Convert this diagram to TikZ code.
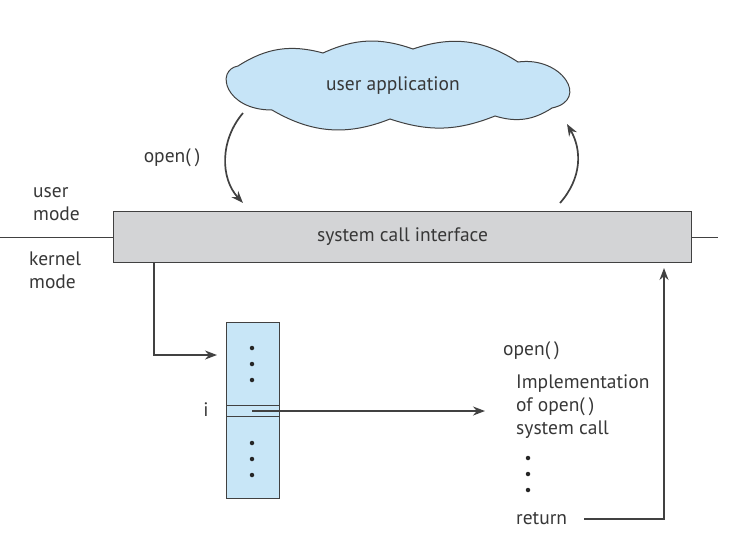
\documentclass[tikz,border=0pt]{standalone}
\usepackage{fontspec}
\setmainfont{PT Sans}
\usetikzlibrary{arrows.meta}
\definecolor{cloudblue}{RGB}{198,228,247}
\definecolor{tblblue}{RGB}{200,230,247}
\definecolor{boxgray}{RGB}{211,212,214}
\definecolor{linegray}{RGB}{65,65,65}
\definecolor{txtgray}{RGB}{55,55,55}
\newcommand{\opn}{open(\hspace{4pt})}
\begin{document}
\begin{tikzpicture}[x=1pt,y=-1pt,
  font=\fontsize{19.5}{23}\selectfont,
  lbl/.style={inner sep=0pt, text=txtgray},
  conn/.style={draw=linegray, line width=1.7pt, -{Stealth[length=12pt,width=9pt]}},
  dotst/.style={circle, fill=black!85, inner sep=0pt, minimum size=4.5pt},
  outline/.style={draw=linegray, line width=1pt}]
\useasboundingbox (0,0) rectangle (738,542);
% cloud
\draw[outline, fill=cloudblue] (238,66) to[bend left=24] (323,53) to[bend left=22] (413,49)
  to[bend left=26] (518,62) .. controls (562,56) and (590,100) .. (552,108)
  to[bend left=25] (495,116) to[bend left=20] (390,119) to[bend left=26] (272,110)
  .. controls (225,110) and (215,70) .. cycle;
\node[lbl] (ua) at (393,86) {user application};
% system call interface
\node[outline, fill=boxgray, minimum width=578pt, minimum height=51pt, anchor=north west, inner sep=0pt, text=txtgray] (sci) at (113,211) {system call interface};
\coordinate (lend) at (0,237);
\coordinate (rend) at (718,237);
\draw[draw=linegray, line width=0.9pt] (lend) -- (sci.west);
\draw[draw=linegray, line width=0.9pt] (sci.east) -- (rend);
% mode labels
\node[lbl, anchor=west, align=left] (um) at (33,204) {user\\mode};
\node[lbl, anchor=west, align=left] (km) at (29,270) {kernel\\mode};
% open() call arrows
\node[lbl] (op) at (172,158) {\opn};
\coordinate (a1) at (243,113);
\coordinate (a2) at (243,203);
\draw[conn] (a1) .. controls (220,140) and (220,178) .. (a2);
\coordinate (b1) at (560,203);
\coordinate (b2) at (567,124);
\draw[conn] (b1) .. controls (582,178) and (582,150) .. (b2);
% table
\node[outline, fill=tblblue, minimum width=53pt, minimum height=176pt, anchor=north west, inner sep=0pt] (tbl) at (226,322) {};
\coordinate (s1l) at (226,405); \coordinate (s1r) at (279,405);
\coordinate (s2l) at (226,416); \coordinate (s2r) at (279,416);
\draw[outline] (s1l) -- (s1r);
\draw[outline] (s2l) -- (s2r);
\foreach \yy/\nm in {348/d1,364/d2,380/d3,443/d4,459/d5,475/d6}
  \node[dotst] (\nm) at (252,\yy) {};
\node[lbl] (ii) at (206,410) {i};
% elbow arrow into table
\coordinate (e0) at (154,262);
\coordinate (e1) at (217,355);
\draw[conn] (e0) |- (e1);
% implementation
\node[lbl, anchor=west] (op2) at (503,351) {\opn};
\node[lbl, anchor=north west, align=left] (impl) at (516,374) {Implementation\\of \opn\\system call};
\foreach \yy/\nm in {458/f1,474/f2,490/f3}
  \node[dotst] (\nm) at (528,\yy) {};
\node[lbl, anchor=west] (ret) at (516,519) {return};
% arrow from table to implementation
\coordinate (t0) at (252,411);
\coordinate (t1) at (485,411);
\draw[conn] (t0) -- (t1);
% return arrow
\coordinate (r0) at (584,519);
\coordinate (r1) at (664,268);
\draw[conn] (r0) -| (r1);
\end{tikzpicture}
\end{document}
